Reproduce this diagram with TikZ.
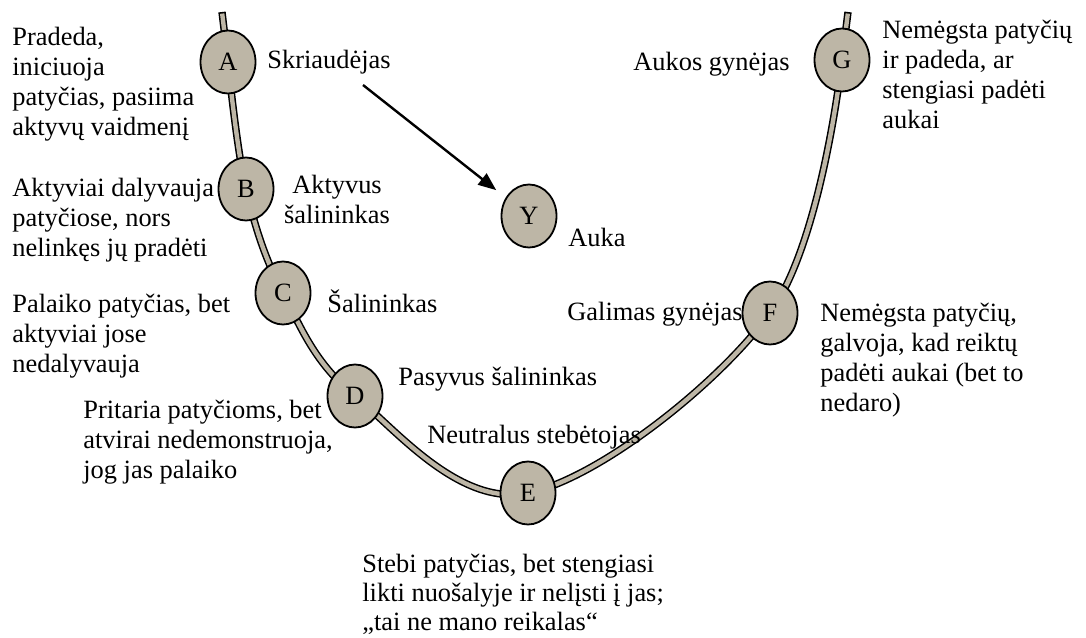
\documentclass[tikz,border=0pt]{standalone}
\usepackage{fontspec}
\setmainfont{Liberation Serif}
\usepackage{tikz}
\usetikzlibrary{arrows.meta,shapes.geometric,backgrounds}
\definecolor{rolefill}{HTML}{BDB6A6}
\tikzset{
  role/.style={ellipse, draw=black, line width=0.9pt, fill=rolefill, minimum width=27.5pt, minimum height=31.5pt, inner sep=0pt},
  tubeout/.style={draw=black, line width=3.7pt},
  tubein/.style={draw=rolefill, line width=2.2pt, shorten <=0.8pt, shorten >=0.8pt},
  lbl/.style={inner sep=0pt, anchor=base west},
  note/.style={inner sep=0pt, anchor=north west, align=left},
  line/.style={-{Triangle[length=9pt, width=7pt]}, line width=1.2pt, draw=black}
}

\begin{document}
\begin{tikzpicture}[x=0.5pt, y=-0.5pt, font=\fontsize{13.2}{15}\selectfont]
  \useasboundingbox (0,0) rectangle (1086,637);

  % the circle of roles
  \node[role] (A) at (228,62) {A};
  \node[role] (B) at (246,189) {B};
  \node[role] (C) at (283,293) {C};
  \node[role] (D) at (355,396) {D};
  \node[role] (E) at (528,493) {E};
  \node[role] (F) at (770,313) {F};
  \node[role] (G) at (842,60) {G};
  \node[role] (Y) at (529,216) {Y};
  \coordinate (topL) at (222,12);
  \coordinate (topR) at (848,12);

  \begin{pgfonlayer}{background}
    \draw[tubeout] (topL) -- plot[smooth, tension=0.6] coordinates {(A) (B) (C) (D) (E) (F) (G)} -- (topR);
    \draw[tubein] (topL) -- plot[smooth, tension=0.6] coordinates {(A) (B) (C) (D) (E) (F) (G)} -- (topR);
  \end{pgfonlayer}

  % role names
  \node[lbl] (rolA) at (267,68) {Skriaudėjas};
  \node[inner sep=0pt, anchor=north, align=center] (rolB) at (337,175) {Aktyvus\\šalininkas};
  \node[lbl] (rolY) at (568,246) {Auka};
  \node[lbl] (rolC) at (327,312) {Šalininkas};
  \node[lbl] (rolD) at (398,385) {Pasyvus šalininkas};
  \node[lbl] (rolE) at (427,443) {Neutralus stebėtojas};
  \node[lbl] (rolF) at (567,320) {Galimas gynėjas};
  \node[lbl] (rolG) at (633,70) {Aukos gynėjas};

  % descriptions
  \node[note] (descA) at (12,27) {Pradeda,\\iniciuoja\\patyčias, pasiima\\aktyvų vaidmenį};
  \node[note] (descB) at (12,178) {Aktyviai dalyvauja\\patyčiose, nors\\nelinkęs jų pradėti};
  \node[note] (descC) at (12,294) {Palaiko patyčias, bet\\aktyviai jose\\nedalyvauja};
  \node[note] (descD) at (83,400) {Pritaria patyčioms, bet\\atvirai nedemonstruoja,\\jog jas palaiko};
  \node[note, font=\fontsize{13.2}{14.5}\selectfont] (descE) at (362,554) {Stebi patyčias, bet stengiasi\\likti nuošalyje ir nelįsti į jas;\\„tai ne mano reikalas“};
  \node[note] (descF) at (820,303) {Nemėgsta patyčių,\\galvoja, kad reiktų\\padėti aukai (bet to\\nedaro)};
  \node[note] (descG) at (882,20) {Nemėgsta patyčių\\ir padeda, ar\\stengiasi padėti\\aukai};

  \coordinate (attack) at (363,85);
  \draw[line, shorten >=6pt] (attack) -- (Y);
\end{tikzpicture}
\end{document}
